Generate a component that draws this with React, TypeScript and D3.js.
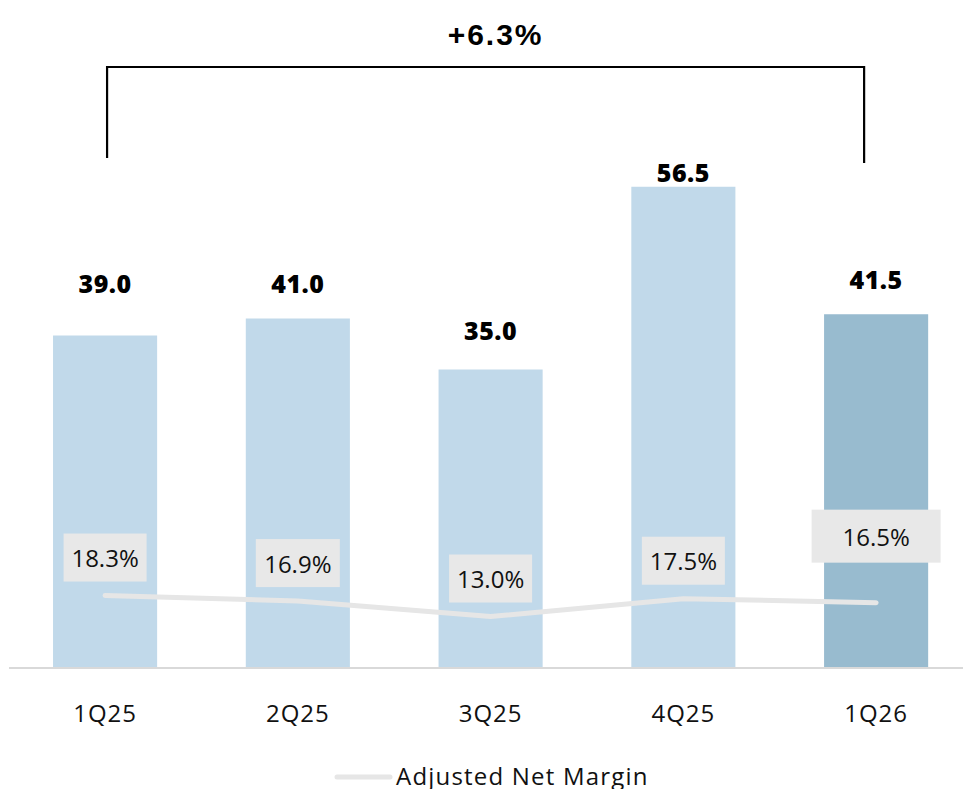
import React from "react";
import * as d3 from "d3";

const categories = ["1Q25", "2Q25", "3Q25", "4Q25", "1Q26"];
const netIncome = [39.0, 41.0, 35.0, 56.5, 41.5];
const netMargin = [18.3, 16.9, 13.0, 17.5, 16.5];
const growthLabel = "+6.3%";
const legendLabel = "Adjusted Net Margin";

// layout / style constants (not data)
const W = 963;
const H = 789;
const BASE = 667;
const barLabelLift = [53, 36, 40, 15, 35];
const boxLift = [14, 14, 14, 14, 40];
const boxW = [83, 84, 83, 83, 129];
const boxH = [48, 48, 48, 48, 53];
const barColors = ["#c1d9ea", "#c1d9ea", "#c1d9ea", "#c1d9ea", "#98bbcf"];
const FONT = "'Open Sans', 'DejaVu Sans', sans-serif";

export default function App() {
  const x = d3
    .scaleBand<string>()
    .domain(categories)
    .range([8.7, 972.5])
    .paddingInner(0.46)
    .paddingOuter(0.23);
  const y = d3.scaleLinear().domain([0, 70]).range([BASE, BASE - 595]);
  const y2 = d3.scaleLinear().domain([0, 100]).range([668, 272]);
  const cx = (c: string) => (x(c) as number) + x.bandwidth() / 2;

  const pts: [number, number][] = categories.map((c, i) => [cx(c), y2(netMargin[i])]);
  const line = d3.line()(pts) as string;

  const xL = cx(categories[0]) + 2;
  const xR = cx(categories[categories.length - 1]) - 12;

  return (
    <svg
      width={W}
      height={H}
      style={{ position: "absolute", left: 0, top: 0, background: "#fff" }}
      fontFamily={FONT}
    >
      {/* growth bracket */}
      <path
        d={`M${xL},158 V67 H${xR} V163`}
        fill="none"
        stroke="#000"
        strokeWidth={2.2}
      />
      <text
        x={(xL + xR) / 2 + 10}
        y={45}
        textAnchor="middle"
        fontFamily="'Liberation Sans', Arial, sans-serif"
        fontWeight={700}
        fontSize={30}
        letterSpacing={2}
        fill="#000"
      >
        {growthLabel}
      </text>

      {/* bars */}
      {categories.map((c, i) => (
        <rect
          key={c}
          x={x(c)}
          y={y(netIncome[i])}
          width={x.bandwidth()}
          height={BASE - y(netIncome[i])}
          fill={barColors[i]}
        />
      ))}

      {/* axis baseline */}
      <line x1={9} x2={W} y1={BASE + 1} y2={BASE + 1} stroke="#d9d9d9" strokeWidth={2} />

      {/* bar value labels */}
      {categories.map((c, i) => (
        <text
          key={c}
          x={cx(c)}
          y={y(netIncome[i]) - barLabelLift[i]}
          textAnchor="middle"
          dominantBaseline="central"
          fontWeight={800}
          fontSize={25}
          letterSpacing={0.5}
          fill="#000"
        >
          {netIncome[i].toFixed(1)}
        </text>
      ))}

      {/* margin line */}
      <path d={line} fill="none" stroke="#e6e6e6" strokeWidth={5} strokeLinecap="round" strokeLinejoin="round" />

      {/* margin labels */}
      {categories.map((c, i) => {
        const bx = cx(c);
        const bottom = pts[i][1] - boxLift[i];
        return (
          <g key={c}>
            <rect
              x={bx - boxW[i] / 2}
              y={bottom - boxH[i]}
              width={boxW[i]}
              height={boxH[i]}
              fill="#e8e8e8"
            />
            <text
              x={bx}
              y={bottom - boxH[i] / 2}
              textAnchor="middle"
              dominantBaseline="central"
              fontSize={24}
              fill="#111"
            >
              {netMargin[i].toFixed(1)}%
            </text>
          </g>
        );
      })}

      {/* category labels */}
      {categories.map((c) => (
        <text
          key={c}
          x={cx(c)}
          y={712}
          textAnchor="middle"
          dominantBaseline="central"
          fontSize={24}
          letterSpacing={1}
          fill="#111"
        >
          {c}
        </text>
      ))}

      {/* legend */}
      <line x1={337} x2={390} y1={777} y2={777} stroke="#e6e6e6" strokeWidth={5} strokeLinecap="round" />
      <text x={396} y={785} fontSize={24} letterSpacing={1.2} fill="#111">
        {legendLabel}
      </text>
    </svg>
  );
}
